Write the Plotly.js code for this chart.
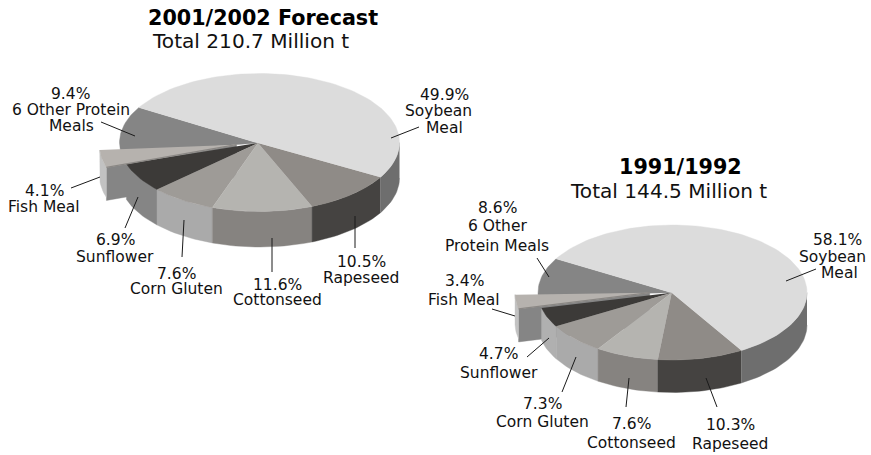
<!DOCTYPE html>
<html><head><meta charset="utf-8">
<script src="https://cdn.plot.ly/plotly-3.0.1.min.js"></script>
<style>html,body{margin:0;padding:0;background:#fff}#chart{width:871px;height:455px}</style>
</head><body><div id="chart"></div>
<script>
// ---- data ----
const categories = ["Soybean Meal","Rapeseed","Cottonseed","Corn Gluten","Sunflower","Fish Meal","6 Other Protein Meals"];
const shares2001 = [49.9,10.5,11.6,7.6,6.9,4.1,9.4];
const shares1991 = [58.1,10.3,7.6,7.3,4.7,3.4,8.6];
const titleA = ["2001/2002 Forecast","Total 210.7 Million t"];
const titleB = ["1991/1992","Total 144.5 Million t"];

// ---- styles / layout ----
const topColorsA  = ["#dcdcdc","#8f8b87","#b5b4b0","#9e9b97","#3c3a38","#b6b2ae","#858585"];
const sideColorsA = ["#6e6e6e","#454341","#868380","#aaaaaa","#858585","#c2c2c2","#858585"];
const topColorsB  = ["#dcdcdc","#8f8b87","#b5b4b0","#9e9b97","#3c3a38","#b6b2ae","#858585"];
const sideColorsB = ["#6e6e6e","#454341","#868380","#aaaaaa","#b0b0b0","#c2c2c2","#858585"];
const geomA = {cx:259.5,cy:142.5,rx:140,ry:69,ax:258,ay:143,h:35.5,start:210.5,fishRim:[-20,3.5],fishApex:[-21.5,1.7],h2:33,backExt:5};
const geomB = {cx:672.5,cy:292.5,rx:134.5,ry:67.5,ax:671.7,ay:292.7,h:32.5,start:210,fishRim:[-23,1],fishApex:[-22,0],h2:33,backExt:1.5};
const labelPosA = [[[444,95],[438,111],[444,128]],[[361,262],[361,278]],[[277,285],[277,300]],[[176,274],[176,289]],[[115,240],[115,257]],[[44,191],[44,207]],[[70,94],[71,110],[71,126]]];
const labelPosB = [[[837,240],[832,257],[839,273]],[[730,425],[730,444]],[[631,424],[631,443]],[[542,404],[542,422]],[[498,354],[499,373]],[[464,281],[464,300]],[[497,208],[497,226],[497,246]]];
const labelLinesA = [["Soybean","Meal"],["Rapeseed"],["Cottonseed"],["Corn Gluten"],["Sunflower"],["Fish Meal"],["6 Other Protein","Meals"]];
const labelLinesB = [["Soybean","Meal"],["Rapeseed"],["Cottonseed"],["Corn Gluten"],["Sunflower"],["Fish Meal"],["6 Other","Protein Meals"]];
const leadersA = [[419,127,391,138],[355,216,355,248],[272,238,272,272],[184,220,182,257],[138,197,125,228],[100,177,71,188],[101,122,135,136]];
const leadersB = [[816,269,786,281],[706,378,717,407],[629,378,626,407],[576,357,562,392],[549,338,527,357],[492,309,515,316],[537,258,549,277]];
const titlePosA = [[263,18],[250,41]];
const titlePosB = [[680,167],[668,191]];
const FONT = "DejaVu Sans, Verdana, sans-serif";
const LABEL_SIZE = 15.5, TITLE_SIZE = 20.1, BOLD_SIZE = 20.7;

const traces = [], annotations = [];
const poly = (pts, color) => traces.push({type:"scatter",mode:"lines",x:pts.map(p=>p[0]),y:pts.map(p=>p[1]),fill:"toself",fillcolor:color,line:{color:color,width:0.4},hoverinfo:"skip",showlegend:false});
const seg = (pts, color, w) => traces.push({type:"scatter",mode:"lines",x:pts.map(p=>p[0]),y:pts.map(p=>p[1]),line:{color:color,width:w},hoverinfo:"skip",showlegend:false});

function drawPie(shares, g, topC, sideC, pos, lines, leaders, titles, titlePos){
  const rim = (t,dx=0,dy=0) => [g.cx+g.rx*Math.cos(t*Math.PI/180)+dx, g.cy+g.ry*Math.sin(t*Math.PI/180)+dy];
  const arc = (a,b,dx=0,dy=0) => { const n=Math.max(2,Math.ceil(Math.abs(b-a)/2)),o=[]; for(let i=0;i<=n;i++) o.push(rim(a+(b-a)*i/n,dx,dy)); return o; };
  let acc = g.start; const ranges = shares.map(s=>{const a=acc;acc+=s*3.6;return [a,acc];});
  const top = i => { const [a,b]=ranges[i]; return [[g.ax,g.ay],...arc(a,b)]; };
  const side = i => { let [a,b]=ranges[i]; a%=360; b=a+(b-ranges[i][0]);
    if(a>180){a-=360;b-=360;} const lo=Math.max(a,0),hi=Math.min(b,180); if(hi<=lo) return;
    const t=arc(lo,hi), bot=arc(hi,lo,0,g.h); poly([...t,...bot],sideC[i]); };
  poly([[g.ax,g.ay],...arc(ranges[6][0]-g.backExt,ranges[6][1])],topC[6]);
  const f=ranges[5], R=g.fishRim, A=g.fishApex;
  const low=rim(f[0],R[0],R[1]), apex=[g.ax+A[0],g.ay+A[1]];
  poly([low,[low[0],low[1]+g.h2],[apex[0],apex[1]+g.h2],apex],sideC[6]);
  poly([...arc(f[0],f[1],R[0],R[1]),...arc(f[1],f[0],R[0],R[1]+g.h2-3)],sideC[5]);
  [4,3,2,1,0].forEach(side);
  [4,3,2,1,0].forEach(i=>poly(top(i),topC[i]));
  poly([apex,...arc(f[0],f[1],R[0],R[1])],topC[5]);
  seg([low,apex],"#8a8784",1.2);
  leaders.forEach(l=>seg([[l[0],l[1]],[l[2],l[3]]],"#1a1a1a",1));
  const note=(p,text,size,color)=>annotations.push({x:p[0],y:p[1],xref:"x",yref:"y",text,showarrow:false,xanchor:"center",yanchor:"middle",font:{family:FONT,size,color}});
  shares.forEach((s,i)=>{ note(pos[i][0],s.toFixed(1)+"%",LABEL_SIZE,"#111");
    lines[i].forEach((t,j)=>note(pos[i][j+1],t,LABEL_SIZE,"#111")); });
  note(titlePos[0],"<b>"+titles[0]+"</b>",BOLD_SIZE,"#000");
  note(titlePos[1],titles[1],TITLE_SIZE,"#111");
}
drawPie(shares2001,geomA,topColorsA,sideColorsA,labelPosA,labelLinesA,leadersA,titleA,titlePosA);
drawPie(shares1991,geomB,topColorsB,sideColorsB,labelPosB,labelLinesB,leadersB,titleB,titlePosB);

Plotly.newPlot("chart",traces,{
  width:871,height:455,margin:{l:0,r:0,t:0,b:0},paper_bgcolor:"#fff",plot_bgcolor:"#fff",showlegend:false,
  xaxis:{range:[0,871],visible:false,fixedrange:true},
  yaxis:{range:[455,0],visible:false,fixedrange:true},
  annotations
},{displayModeBar:false,staticPlot:true});
</script></body></html>
